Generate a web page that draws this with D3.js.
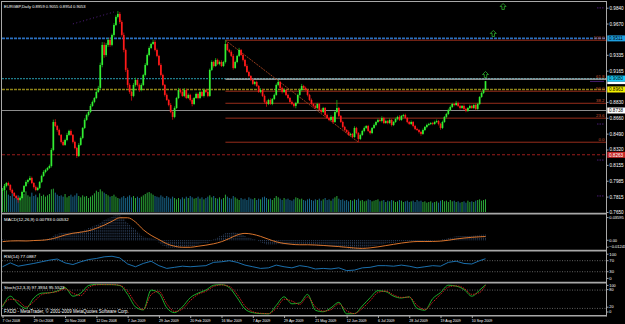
<!DOCTYPE html>
<html><head><meta charset="utf-8">
<script src="https://cdn.jsdelivr.net/npm/d3@7"></script>
<style>
html,body{margin:0;padding:0;background:#000;overflow:hidden}
svg{display:block}
text{font-family:"Liberation Sans",Arial,sans-serif}
</style>
</head><body>
<svg id="c" width="625" height="324"></svg>
<script>
// ---------------- DATA ----------------
const symbolTitle = "EURGBP,Daily  0.8959 0.9055 0.8954 0.9053";
const firstOpen = 0.7880;
// daily closes (price x 10000)
const closePips = [
7886,7929,7961,7940,7886,7854,7822,7800,7779,7800,
7865,7929,7972,7993,8015,7961,7918,7886,7908,7972,
8036,8079,8101,8122,8143,8315,8615,8572,8529,8476,
8401,8369,8422,8476,8519,8476,8401,8336,8251,8369,
8444,8551,8637,8690,8722,8787,8830,8872,8937,8980,
9226,9441,9333,9441,9494,9441,9548,9655,9741,9773,
9687,9548,9387,9173,9012,8937,8894,9012,9065,9012,
8958,9012,9119,9226,9333,9408,9451,9473,9387,9323,
9226,9119,9012,8905,8851,8797,8722,8669,8765,8872,
8958,8937,8894,8958,8872,8905,8851,8808,8872,8915,
8872,8937,8894,8958,8937,8894,9173,9258,9215,9280,
9237,9258,9215,9258,9451,9387,9366,9323,9194,9258,
9323,9387,9333,9280,9215,9151,9108,9065,9023,9044,
9001,8937,8958,8894,8830,8808,8851,8808,8862,8905,
9012,9044,8980,8937,8958,8905,8872,8830,8808,8787,
8819,8905,8958,9001,8980,8958,8905,8851,8808,8787,
8765,8808,8744,8722,8765,8690,8658,8637,8669,8615,
8722,8765,8680,8615,8562,8529,8508,8476,8487,8454,
8551,8497,8433,8476,8519,8551,8572,8519,8497,8551,
8583,8615,8637,8626,8658,8604,8626,8604,8637,8583,
8615,8647,8669,8637,8680,8690,8658,8615,8594,8615,
8572,8540,8529,8508,8487,8529,8562,8583,8594,8604,
8594,8615,8626,8594,8551,8615,8669,8701,8744,8776,
8808,8797,8819,8787,8765,8787,8755,8733,8765,8787,
8765,8797,8755,8808,8883,8926,8959,9053];
const upperWickPips = [
12,18,10,15,8,14,10,12,9,20, 15,10,18,12,22,14,9,16,12,10,
14,18,12,10,16,20,25,30,12,15, 10,18,14,22,12,16,10,14,12,20,
16,10,18,14,12,20,15,10,18,22, 25,30,28,20,18,26,15,20,18,32,
20,18,25,15,22,18,12,20,25,14, 16,18,12,20,15,18,14,25,20,15,
12,18,14,10,16,12,20,14,18,12, 22,15,18,20,14,16,12,18,10,15,
14,18,12,16,10,20,15,18,12,20, 14,16,18,12,40,18,12,16,20,14,
12,22,10,16,12,18,14,10,16,12, 14,10,18,12,16,14,12,18,10,15,
16,20,12,14,18,10,14,12,16,10, 12,14,16,22,12,14,10,12,16,10,
14,12,10,16,12,10,14,12,18,10, 14,86,12,10,14,12,10,16,12,10,
18,12,10,14,12,16,10,12,14,10, 16,12,14,10,18,12,14,10,16,12,
10,14,12,18,10,12,14,10,12,16, 10,12,14,10,12,16,10,14,12,10,
12,14,16,10,12,14,10,12,14,16, 12,10,22,14,12,10,16,12,10,14,
12,10,14,12,10,14,12,2];
const lowerWickPips = [
14,10,16,12,18,12,14,10,30,12, 10,14,12,18,10,12,16,14,10,12,
12,10,14,12,10,16,14,12,18,10, 16,12,10,14,12,10,16,14,22,12,
10,14,12,10,16,12,10,14,12,10, 20,25,30,18,22,20,14,18,12,16,
20,18,25,22,30,20,50,14,18,16, 20,14,12,16,10,14,12,10,16,14,
12,16,14,18,10,14,12,30,14,10, 12,16,10,14,12,10,16,25,12,10,
14,12,10,16,12,14,10,12,16,10, 12,14,10,12,16,10,14,12,18,10,
14,12,10,16,12,10,14,12,10,16, 12,10,14,12,16,30,12,10,14,12,
10,14,12,16,10,12,14,10,12,16, 25,12,10,14,12,10,16,12,10,14,
12,16,10,14,12,16,10,14,12,18, 10,14,12,10,16,12,14,10,16,12,
10,14,35,12,10,14,12,10,16,12, 10,14,12,10,16,12,10,14,12,16,
12,10,14,12,10,16,12,14,10,12, 14,12,10,16,20,10,12,14,10,12,
14,10,12,16,20,12,10,14,12,10, 12,14,10,12,16,10,12,14,10,12,
10,12,14,10,12,10,12,5];
const volumes = [
7200,8400,6500,5200,4800,5600,4200,4600,5000,4400, 6000,5400,6200,5000,4600,5800,4800,5200,4400,5600,
4800,5200,4600,5000,5400,6800,7000,5800,5200,4800, 5000,4600,5400,4400,4800,5200,4600,5000,5600,4800,
4400,5000,4600,4800,4200,4600,5000,5600,6400,6000, 6800,6200,5800,5400,5000,4600,4800,5200,4600,4200,
4000,4400,4800,4200,4600,5000,4400,4800,4200,4600, 4200,4600,5000,5400,5800,6000,5600,5200,4800,4600,
4400,5000,4600,4200,4800,4400,4000,4600,4200,3800, 4200,3800,4400,4000,4600,4200,4800,4400,4000,4200,
4600,4000,4400,3800,4200,4600,5000,4400,4800,4200, 4000,4400,3800,4200,5200,4600,4200,4000,4800,4400,
4000,3600,4200,3800,4000,3600,4400,4000,3800,4200, 3600,4000,3800,4400,4600,4200,3800,4000,3600,4200,
4800,4400,4000,3600,4200,3800,4000,3600,3400,3800, 4400,4200,3800,4000,3600,3400,3800,4000,3600,3400,
3800,3600,4000,3400,3800,4200,3600,3800,3400,4000, 4400,4800,4000,3600,3800,3400,3600,3200,3600,3400,
3800,3600,4000,3400,3600,3200,3400,3800,3600,3200, 3400,3600,3800,3200,3400,3600,3000,3400,3200,3600,
3400,3000,3200,3600,3400,3000,3200,3400,3000,3200, 3400,3000,3600,3200,3400,3000,3200,2800,3000,3200,
2800,3000,3200,2800,3400,3600,3200,3400,3000,3600, 3200,3400,3000,3200,2800,3000,3200,2800,3400,3000,
3200,3000,3400,3600,3800,3400,3600,3800];
// MACD main (x 0.0001), one per bar
const macdMain = [
10,8,6,4,0,-4,-8,-12,-15,-16, -14,-10,-6,-2,2,3,2,0,0,2,
6,12,18,24,32,45,65,80,90,98, 103,106,110,114,118,120,120,118,115,118,
125,135,148,160,172,184,196,208,220,232, 250,275,288,300,312,322,340,350,356,359,
357,335,305,275,245,215,190,175,150,120, 95,70,50,38,32,30,28,25,15,-5,
-30,-55,-75,-90,-100,-106,-110,-112,-112,-110, -108,-108,-106,-104,-100,-96,-90,-85,-80,-74,
-66,-50,-48,-45,-40,-35,-20,-5,10,25, 40,55,70,85,100,105,110,115,118,116,
112,100,90,75,60,45,38,30,20,10, 0,-12,-28,-40,-50,-58,-62,-64,-64,-62,
-56,-52,-54,-58,-60,-62,-64,-66,-68,-70, -70,-66,-62,-58,-58,-60,-63,-66,-70,-73,
-76,-78,-80,-82,-84,-87,-90,-93,-94,-96, -95,-94,-96,-100,-106,-112,-116,-120,-122,-124,
-122,-121,-123,-120,-115,-110,-104,-98,-93,-88, -82,-76,-70,-64,-58,-54,-49,-45,-40,-37,
-34,-31,-27,-24,-20,-16,-14,-13,-13,-14, -15,-17,-19,-21,-23,-22,-20,-17,-14,-11,
-8,-5,-2,0,4,10,18,25,32,40, 46,50,54,56,58,60,61,62,64,67,
70,72,73,74,76,77,78,79];
// oscillator lines sampled every 4th bar (plus last bar)
const lineIdx = d3.range(0, 245, 4).concat([247]);
const macdSignal = [-20,-10,-8,-10,-4,0,12,40,75,100,115,135,170,215,270,320,320,260,150,70,
10,-50,-85,-100,-100,-85,-70,-50,-20,25,75,98,85,55,15,-22,-45,-58,-64,-64,
-67,-74,-82,-90,-100,-110,-116,-108,-94,-76,-58,-40,-26,-18,-18,-17,-12,0,18,32,
42,49,53];
const rsiValues = [48,62,50,55,60,66,72,76,62,56,66,74,78,84,86,80,58,48,60,68,
52,42,46,50,48,50,52,64,66,70,64,54,48,42,44,54,48,44,52,48,
40,42,40,44,34,36,44,46,52,52,50,54,50,44,48,52,50,64,68,60,
58,70,77.0887];
const stochMain = [25,60,35,20,54,70,71,77,88,60,70,95,99,98,98,95,66,25,15,80,
70,22,6,25,55,70,80,96,98,88,55,18,6,3,2,30,58,35,38,66,
14,9,22,40,2,3,28,55,78,75,60,54,58,20,14,52,72,96,93,82,
60,80,97.3934];
const stochSignal = [30,50,45,25,42,65,71,75,84,70,62,88,97,98,98,96,76,38,16,65,
76,35,10,18,45,66,76,92,97,92,66,28,9,4,3,20,50,44,33,58,
25,11,16,35,12,3,20,45,72,77,64,56,57,30,16,40,66,90,94,86,
66,72,95.5523];
// time axis
const dateIdx = d3.range(0, 241, 16);
const dateLabels = ["7 Oct 2008","29 Oct 2008","20 Nov 2008","12 Dec 2008","7 Jan 2009","29 Jan 2009",
"20 Feb 2009","16 Mar 2009","7 Apr 2009","29 Apr 2009","21 May 2009","12 Jun 2009","6 Jul 2009",
"28 Jul 2009","19 Aug 2009","10 Sep 2009"];
// visible price-scale labels (0.9500 and 0.8996 are covered by line tags in the original)
const priceTicks = [0.9840,0.9670,0.9335,0.9165,0.8830,0.8660,0.8490,0.8320,0.8155,0.7985,0.7815,0.7650];
// horizontal line objects
const hLinePrices = [0.9511, 0.9080, 0.8963, 0.8738, 0.8263];
// fibonacci retracement anchor (bar index, price)
const fibAnchorIdx = [114, 182];
const fibAnchorPrice = [0.9491, 0.8398];
const fibLevels = [100.0, 61.8, 50.0, 38.2, 23.6, 0.0];
// signal arrows
const arrowIdx = [247, 251, 256];
const arrowPrice = [0.9124, 0.9564, 0.9853];
// small purple markers
const purpleIdx = [36, 57];
const purplePrice = [0.9666, 0.9794];
const purpleMarkPrice = [0.9838, 0.9050, 0.8593, 0.8207, 0.7822];
const macdText = "MACD(12,26,9) 0.00793 0.00532";
const rsiText = "RSI(14) 77.0887";
const stochText = "Stoch(12,3,3) 97.3934 95.5523";
const copyText = "FXDD - MetaTrader, \u00a9 2001-2009 MetaQuotes Software Corp.";

// ---------------- BUILD ----------------
const bars = closePips.map((c, i) => {
  const close = c / 1e4;
  const open = i === 0 ? firstOpen : closePips[i - 1] / 1e4;
  return {
    i, open, close,
    high: Math.max(open, close) + upperWickPips[i] / 1e4,
    low: Math.min(open, close) - lowerWickPips[i] / 1e4,
    vol: volumes[i], macd: macdMain[i] / 1e4
  };
});

const W = 625, H = 324, AX = 606.5;
const x = d3.scaleLinear().domain([0, 247]).range([2.5, 485.5]);
const yP = d3.scaleLinear().domain([0.7650, 0.9901]).range([212, 2]);
const yV = d3.scaleLinear().domain([0, 12000]).range([212, 172]);
const yM = d3.scaleLinear().domain([-0.01243, 0.03595]).range([249, 215]);
const yR = d3.scaleLinear().domain([0, 100]).range([280, 252.4]);
const yS = d3.scaleLinear().domain([0, 100]).range([314.5, 284]);

const svg = d3.select("#c");
svg.append("rect").attr("width", W).attr("height", H).attr("fill", "#000");
const defs = svg.append("defs");
defs.append("clipPath").attr("id", "mainClip").append("rect").attr("x", 2).attr("y", 2).attr("width", AX - 2).attr("height", 211);
defs.append("clipPath").attr("id", "macdClip").append("rect").attr("x", 2).attr("y", 214.5).attr("width", AX - 2).attr("height", 35);

const main = svg.append("g").attr("clip-path", "url(#mainClip)");

// volumes
main.append("g").selectAll("line").data(bars).join("line")
  .attr("x1", d => x(d.i)).attr("x2", d => x(d.i))
  .attr("y1", yV(0)).attr("y2", d => yV(d.vol))
  .attr("stroke", d => d.close >= d.open ? "#2aa838" : "#1a6a8e")
  .attr("stroke-width", 1);

// horizontal lines
const fullLine = (p, color, w, dash) => main.append("line")
  .attr("x1", 2).attr("x2", AX).attr("y1", yP(p)).attr("y2", yP(p))
  .attr("stroke", color).attr("stroke-width", w).attr("stroke-dasharray", dash || null);
fullLine(hLinePrices[0], "#2b70c0", 1.6, "3,1");
fullLine(hLinePrices[1], "#1f7d8c", 1.2, "2,1");
fullLine(hLinePrices[2], "#8f8418", 1.6, "3,1");
fullLine(hLinePrices[3], "#8c8c8c", 1.2);
fullLine(hLinePrices[4], "#9a1c1c", 1.1, "3,2");

// fibonacci
const fHi = fibAnchorPrice[0], fLo = fibAnchorPrice[1];
const fibX0 = x(fibAnchorIdx[0]);
const fibG = main.append("g");
fibLevels.forEach(lv => {
  const p = fLo + (fHi - fLo) * lv / 100;
  fibG.append("line").attr("x1", fibX0).attr("x2", AX).attr("y1", yP(p)).attr("y2", yP(p))
    .attr("stroke", lv === 61.8 ? "#b8b8b8" : "#a8321e").attr("stroke-width", lv === 61.8 ? 1.2 : 0.9);
  fibG.append("text").attr("x", AX - 2).attr("y", yP(p) - 0.8).attr("text-anchor", "end")
    .attr("font-size", 4.4).attr("fill", "#c8502e").text(lv.toFixed(1));
});
fibG.append("line")
  .attr("x1", x(fibAnchorIdx[0])).attr("y1", yP(fHi))
  .attr("x2", x(fibAnchorIdx[1])).attr("y2", yP(fLo))
  .attr("stroke", "#a84420").attr("stroke-width", 0.9).attr("stroke-dasharray", "2,1");

// purple markers
main.append("line").attr("x1", x(purpleIdx[0])).attr("y1", yP(purplePrice[0]))
  .attr("x2", x(purpleIdx[1])).attr("y2", yP(purplePrice[1]))
  .attr("stroke", "#5b2390").attr("stroke-width", 0.9).attr("stroke-dasharray", "1,2.5");
purpleMarkPrice.forEach((p, k) => {
  main.append("line").attr("x1", k === 1 ? 590 : 597).attr("x2", 604).attr("y1", yP(p)).attr("y2", yP(p))
    .attr("stroke", "#5b2390").attr("stroke-width", 0.8).attr("stroke-dasharray", k === 1 ? null : "1.5,1");
});

// candles
const cg = main.append("g");
cg.selectAll("line").data(bars).join("line")
  .attr("x1", d => x(d.i)).attr("x2", d => x(d.i))
  .attr("y1", d => yP(d.high)).attr("y2", d => yP(d.low))
  .attr("stroke", d => d.close >= d.open ? "#18b818" : "#d01010").attr("stroke-width", 0.8);
cg.selectAll("rect").data(bars).join("rect")
  .attr("x", d => x(d.i) - 0.85).attr("width", 1.7)
  .attr("y", d => yP(Math.max(d.open, d.close)))
  .attr("height", d => Math.max(0.6, Math.abs(yP(d.open) - yP(d.close))))
  .attr("fill", d => d.close >= d.open ? "#33ee33" : "#ff1a1a");

// arrows
const arrowPath = "M0,-3L3,0L1.2,0L1.2,3L-1.2,3L-1.2,0L-3,0Z";
arrowIdx.forEach((ai, k) => {
  svg.append("path").attr("d", arrowPath)
    .attr("transform", `translate(${x(ai)},${yP(arrowPrice[k])})`)
    .attr("fill", "none").attr("stroke", "#2fae2f").attr("stroke-width", 0.8);
});

// MACD
const mg = svg.append("g").attr("clip-path", "url(#macdClip)");
mg.selectAll("line").data(bars).join("line")
  .attr("x1", d => x(d.i)).attr("x2", d => x(d.i))
  .attr("y1", yM(0)).attr("y2", d => yM(d.macd))
  .attr("stroke", "#4f70a0").attr("stroke-width", 0.7).attr("stroke-dasharray", "0.8,0.8");
const sigLine = d3.line().x((d, k) => x(lineIdx[k])).curve(d3.curveMonotoneX);
mg.append("path").datum(macdSignal)
  .attr("d", sigLine.y(d => yM(d / 1e4)))
  .attr("fill", "none").attr("stroke", "#d9742c").attr("stroke-width", 1);

// RSI
[70, 30].forEach(v => svg.append("line").attr("x1", 2).attr("x2", AX).attr("y1", yR(v)).attr("y2", yR(v))
  .attr("stroke", "#8a8a8a").attr("stroke-width", 0.7).attr("stroke-dasharray", "1,1.5"));
svg.append("path").datum(rsiValues)
  .attr("d", d3.line().x((d, k) => x(lineIdx[k])).y(d => yR(d)))
  .attr("fill", "none").attr("stroke", "#1e7cc0").attr("stroke-width", 0.9);

// Stochastic
[80, 20].forEach(v => svg.append("line").attr("x1", 2).attr("x2", AX).attr("y1", yS(v)).attr("y2", yS(v))
  .attr("stroke", "#8a8a8a").attr("stroke-width", 0.7).attr("stroke-dasharray", "1,1.5"));
const stLine = d3.line().x((d, k) => x(lineIdx[k])).y(d => yS(d)).curve(d3.curveMonotoneX);
svg.append("path").datum(stochMain).attr("d", stLine)
  .attr("fill", "none").attr("stroke", "#1fbf2f").attr("stroke-width", 0.9);
svg.append("path").datum(stochSignal).attr("d", stLine)
  .attr("fill", "none").attr("stroke", "#e02020").attr("stroke-width", 0.9).attr("stroke-dasharray", "1.5,1");

// frame / separators
const fr = svg.append("g").attr("stroke", "#a8a8a8").attr("fill", "none");
fr.append("line").attr("x1", 1.5).attr("x2", AX).attr("y1", 1.5).attr("y2", 1.5).attr("stroke-width", 1);
[213.6, 250.6, 282.6, 315.8].forEach(y => fr.append("line").attr("x1", 1).attr("x2", AX).attr("y1", y).attr("y2", y).attr("stroke-width", 1.6));
fr.append("line").attr("x1", 1.5).attr("x2", 1.5).attr("y1", 1).attr("y2", 316).attr("stroke-width", 1);
fr.append("line").attr("x1", AX).attr("x2", AX).attr("y1", 1).attr("y2", 316.5).attr("stroke-width", 1);

// axes
function styleAxis(g, fs) {
  g.select(".domain").remove();
  g.selectAll(".tick line").attr("stroke", "#a8a8a8");
  g.selectAll(".tick text").attr("fill", "#ffffff").attr("font-size", fs)
    .attr("font-family", '"Liberation Sans",Arial,sans-serif');
}
const pAxis = svg.append("g").attr("transform", `translate(${AX},0)`)
  .call(d3.axisRight(yP).tickValues(priceTicks).tickFormat(d3.format(".4f")).tickSize(2).tickPadding(1));
styleAxis(pAxis, 4.6);

const dAxis = svg.append("g").attr("transform", "translate(0,316)")
  .call(d3.axisBottom(x).tickValues(dateIdx).tickFormat((d, k) => dateLabels[k]).tickSize(2).tickPadding(1));
styleAxis(dAxis, 3.6);
dAxis.selectAll(".tick text").attr("text-anchor", "start").attr("dx", -0.5);

function subAxis(scale, vals, fmt, pos, fs) {
  const g = svg.append("g").attr("transform", `translate(${AX},0)`)
    .call(d3.axisRight(scale).tickValues(vals).tickFormat(fmt).tickSize(2).tickPadding(0.8));
  styleAxis(g, fs);
  g.selectAll(".tick").attr("transform", (d, k) => `translate(0,${pos[k]})`);
  return g;
}
subAxis(yM, [0.03595, 0, -0.01243], d => d === 0 ? "0.00" : d3.format(".5f")(d), [217.6, yM(0), 247.2], 4.0);
subAxis(yR, [100, 70, 30, 0], d3.format("d"), [254.2, yR(70), yR(30), 278.4], 4.2);
subAxis(yS, [100, 80, 20, 0], d3.format("d"), [285.4, 289.6, 307.2, 312.0], 3.8);

// highlighted price labels on the axis
const bid = bars[bars.length - 1].close;
const tagData = [
  {p: hLinePrices[0], bg: "#1fa0e0", fg: "#000"},
  {p: bid, bg: "#ffffff", fg: "#000"},
  {p: hLinePrices[1], bg: "#19c8f5", fg: "#000"},
  {p: hLinePrices[2], bg: "#f5f000", fg: "#000"},
  {p: hLinePrices[3], bg: "#ffffff", fg: "#000"},
  {p: hLinePrices[4], bg: "#c82828", fg: "#fff"}
];
const tg = svg.append("g");
tagData.forEach((t, k) => {
  const y = yP(t.p);
  // the bid tag sits mostly behind the 0.9080 tag, as in the original
  const hgt = k === 1 ? 2.6 : 6, top = k === 1 ? y + 0.4 : y - 3;
  tg.append("rect").attr("x", AX + 0.8).attr("y", top).attr("width", 18).attr("height", hgt).attr("fill", t.bg);
  if (k !== 1) tg.append("text").attr("x", AX + 2.5).attr("y", y + 1.7).attr("font-size", 4.6).attr("fill", t.fg).text(d3.format(".4f")(t.p));
});

// panel captions
const cap = (tx, y, fs) => svg.append("text").attr("x", 4).attr("y", y).attr("font-size", fs).attr("fill", "#ffffff").text(tx);
cap(symbolTitle, 7.6, 4.1);
cap(macdText, 220.5, 4.4);
cap(rsiText, 257.5, 4.4);
cap(stochText, 289, 4.4);
cap(copyText, 312.6, 4.5);
</script>
</body></html>
